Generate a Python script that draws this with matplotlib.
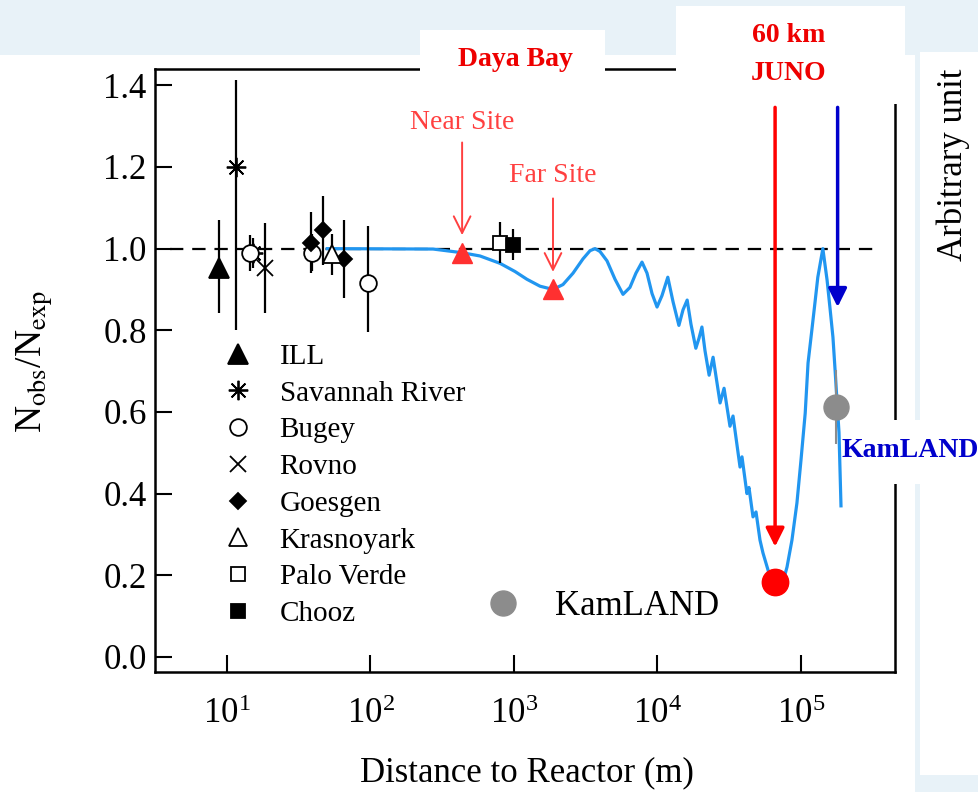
import matplotlib
matplotlib.use("Agg")
import matplotlib.pyplot as plt
from matplotlib.patches import Rectangle
from matplotlib.lines import Line2D
from matplotlib.ticker import NullLocator, LogFormatterMathtext, FormatStrFormatter

plt.rcParams['font.family'] = ['Liberation Serif', 'DejaVu Serif']
plt.rcParams['mathtext.fontset'] = 'stix'

# reactor experiments (distance in m, Nobs/Nexp, error down / up)
pt_exp = ['ILL', 'Savannah River', 'Savannah River', 'Bugey', 'Bugey', 'Bugey',
          'Rovno', 'Goesgen', 'Goesgen', 'Goesgen', 'Krasnoyark', 'Palo Verde', 'Chooz']
pt_dist = [8.8, 11.6, 15.2, 14.5, 39, 96, 18.4, 38.5, 46.7, 65, 54, 800, 980]
pt_ratio = [0.952, 1.20, 0.99, 0.989, 0.99, 0.915, 0.952, 1.015, 1.045, 0.974, 0.986, 1.015, 1.01]
pt_err_lo = [0.11, 0.40, 0.037, 0.045, 0.045, 0.12, 0.11, 0.075, 0.085, 0.095, 0.05, 0.05, 0.037]
pt_err_hi = [0.117, 0.213, 0.037, 0.045, 0.045, 0.14, 0.11, 0.075, 0.085, 0.095, 0.05, 0.05, 0.037]

# Daya Bay sites
site_names = ['Near Site', 'Far Site']
site_dist = [435, 1870]
site_ratio = [0.99, 0.90]

# JUNO and KamLAND
juno_dist, juno_ratio = 66000, 0.184
kam_dist, kam_ratio, kam_err = 175000, 0.612, 0.09

# oscillation curve
curve_dist = [50, 273, 435, 580, 799, 1016, 1230, 1518, 1870, 2195, 2580, 3027, 3388,
              3670, 3975, 4450, 5058, 5750, 6427, 7079, 7800, 8453, 9160, 9930,
              10750, 11800, 12830, 14100, 15060, 16100, 17110, 18500, 19450, 20400,
              21430, 22900, 24400, 27300, 29100, 32000,
              33600, 37600, 38800, 42000, 43400, 46300, 48600, 51800, 54300, 58900,
              62800, 68100, 73800, 79900, 86500, 93700, 100000, 107000, 112000,
              119000, 125000, 131000, 142000, 152000, 159000, 167000, 173000,
              178000, 184000, 190000]
curve_ratio = [1.0, 0.999, 0.99, 0.982, 0.964, 0.944, 0.925, 0.908, 0.90, 0.912, 0.94,
               0.975, 0.995, 1.0, 0.993, 0.97, 0.925, 0.888, 0.905, 0.94, 0.967, 0.94,
               0.89, 0.857, 0.885, 0.93, 0.87, 0.812, 0.85, 0.874, 0.815, 0.756, 0.78,
               0.808, 0.75, 0.69, 0.734, 0.622, 0.658, 0.565,
               0.59, 0.465, 0.49, 0.40, 0.415, 0.343, 0.355, 0.286, 0.255, 0.213,
               0.18, 0.155, 0.175, 0.22, 0.286, 0.377, 0.482, 0.597, 0.72,
               0.80, 0.866, 0.93, 1.0, 0.923, 0.857, 0.783, 0.70,
               0.63, 0.55, 0.37]

styles = {
    'ILL': dict(marker='^', mfc='black', ms=14),
    'Savannah River': dict(marker=(8, 2, 0), mfc='black', ms=14),
    'Bugey': dict(marker='o', mfc='white', ms=12),
    'Rovno': dict(marker='x', mfc='black', ms=12),
    'Goesgen': dict(marker='D', mfc='black', ms=8),
    'Krasnoyark': dict(marker='^', mfc='white', ms=13),
    'Palo Verde': dict(marker='s', mfc='white', ms=10),
    'Chooz': dict(marker='s', mfc='black', ms=10),
}

W, H = 979, 792
fig = plt.figure(figsize=(W / 100, H / 100), dpi=100, facecolor='#e8f2f8')
ax = fig.add_axes([155 / W, 1 - 672 / H, (895 - 155) / W, (672 - 69) / H])
ax.set_facecolor('white')


def cover(x0, y0, x1, y1, color='white', z=5):
    fig.add_artist(Rectangle((x0 / W, 1 - y1 / H), (x1 - x0) / W, (y1 - y0) / H,
                             transform=fig.transFigure, facecolor=color,
                             edgecolor='none', zorder=z))


def ftext(x, y, s, **kw):
    fig.text(x / W, 1 - y / H, s, ha='center', va='center', zorder=6, **kw)


# white page behind the chart
cover(0, 55, 915, 792, z=-1)

ax.set_xscale('log')
ax.set_xlim(3.15, 4.52e5)
ax.set_ylim(-0.037, 1.44)

ax.hlines(1.0, 4, 3.5e5, colors='black', linestyles=(0, (6, 4)), lw=1.6, zorder=1)
ax.plot(curve_dist, curve_ratio, color='#2196f0', lw=2.3, zorder=2,
        solid_joinstyle='round')

for name in styles:
    idx = [i for i, e in enumerate(pt_exp) if e == name]
    st = styles[name]
    ax.errorbar([pt_dist[i] for i in idx], [pt_ratio[i] for i in idx],
                yerr=[[pt_err_lo[i] for i in idx], [pt_err_hi[i] for i in idx]],
                fmt='none', ecolor='black', elinewidth=1.6, capsize=0, zorder=3)
    ax.plot([pt_dist[i] for i in idx], [pt_ratio[i] for i in idx], ls='none',
            marker=st['marker'], ms=st['ms'], mfc=st['mfc'], mec='black',
            mew=1.3, zorder=4)

# Daya Bay sites
ax.plot(site_dist, site_ratio, ls='none', marker='^', ms=15, color='#ff3030', zorder=5)
for d, r, top, ly, name in zip(site_dist, site_ratio, [1.26, 1.123], [1.31, 1.18], site_names):
    ax.annotate('', xy=(d, r + 0.043), xytext=(d, top),
                arrowprops=dict(arrowstyle='->', color='#ff4040', lw=1.4,
                                mutation_scale=30, shrinkA=0, shrinkB=0))
    ax.text(d, ly, name, color='#ff4040', fontsize=20, ha='center', va='center')

# JUNO arrow and point
ax.annotate('', xy=(juno_dist, 0.27), xytext=(juno_dist, 1.346),
            arrowprops=dict(arrowstyle='-|>', color='#ff0000', lw=2.5,
                            mutation_scale=28, shrinkA=0, shrinkB=0),
            annotation_clip=False)
ax.plot([juno_dist], [juno_ratio], 'o', ms=19, color='#ff0000', zorder=6)

# KamLAND point and arrow
ax.errorbar([kam_dist], [kam_ratio], yerr=kam_err, fmt='o', ms=18, color='#8c8c8c',
            elinewidth=1.5, capsize=0, zorder=5)
ax.annotate('', xy=(1.8e5, 0.857), xytext=(1.8e5, 1.346),
            arrowprops=dict(arrowstyle='-|>', color='#0000cc', lw=2.5,
                            mutation_scale=28, shrinkA=0, shrinkB=0),
            annotation_clip=False)

# axes styling
for s in ax.spines.values():
    s.set_linewidth(1.8)
ax.set_xticks([1e1, 1e2, 1e3, 1e4, 1e5])
ax.xaxis.set_minor_locator(NullLocator())
ax.xaxis.set_major_formatter(LogFormatterMathtext())
ax.set_yticks([0.0, 0.2, 0.4, 0.6, 0.8, 1.0, 1.2, 1.4])
ax.yaxis.set_major_formatter(FormatStrFormatter('%.1f'))
ax.tick_params(direction='in', length=12, width=1.5, labelsize=25)
ax.tick_params(axis='x', pad=19)
ax.tick_params(axis='y', pad=6)

# legends
handles = [Line2D([], [], ls='none', marker=styles[n]['marker'], ms=styles[n]['ms'],
                  mfc=styles[n]['mfc'], mec='black', mew=1.3) for n in styles]
leg = ax.legend(handles, list(styles), loc='upper left', bbox_to_anchor=(0.092, 0.545),
                frameon=False, fontsize=21, handlelength=1.0, handletextpad=0.94,
                labelspacing=0.355, borderpad=0, borderaxespad=0)
ax.add_artist(leg)
kh = Line2D([], [], ls='none', marker='o', ms=18, color='#8c8c8c')
ax.legend([kh], ['KamLAND'], loc='center left', bbox_to_anchor=(0.447, 0.109),
          frameon=False, fontsize=25, handlelength=1.0, handletextpad=1.0,
          borderpad=0, borderaxespad=0)

# pasted label boxes
cover(420, 30, 605, 76)
cover(676, 6, 905, 104)
cover(920, 52, 979, 775)
cover(842, 420, 979, 484)

ftext(515, 60, 'Daya Bay', color='#ee0000', fontsize=20, fontweight='bold')
ftext(789, 35, '60 km', color='#ee0000', fontsize=20, fontweight='bold')
ftext(789, 73, 'JUNO', color='#ee0000', fontsize=20, fontweight='bold')
ftext(910, 450, 'KamLAND', color='#0000cc', fontsize=20, fontweight='bold')
ftext(953, 165, 'Arbitrary unit', fontsize=25, rotation=90)
ftext(35, 361, r'N$_{\rm obs}$/N$_{\rm exp}$', fontsize=27, rotation=90)
ftext(527, 773, 'Distance to Reactor (m)', fontsize=25)

fig.savefig('out.png', dpi=100, facecolor=fig.get_facecolor())
